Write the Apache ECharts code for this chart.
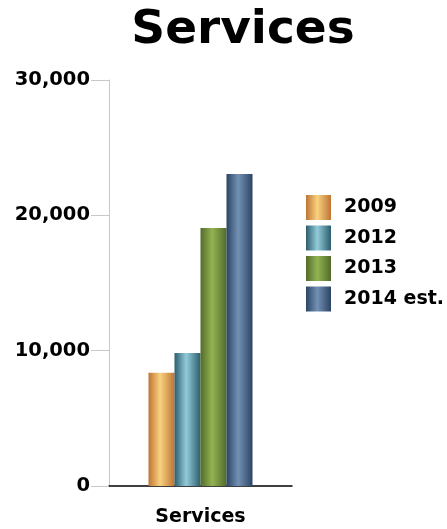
<!DOCTYPE html>
<html><head><meta charset="utf-8">
<script src="https://cdn.jsdelivr.net/npm/echarts@6/dist/echarts.min.js"></script>
<style>html,body{margin:0;padding:0;background:#fff}#c{width:447px;height:529px}</style>
</head><body><div id="c"></div>
<script>
const categories = ['Services'];
const seriesNames = ['2009', '2012', '2013', '2014 est.'];
const values2009 = [8370];
const values2012 = [9830];
const values2013 = [19070];
const values2014 = [23060];
const yTicks = [0, 10000, 20000, 30000];

const palettes = [
  ['#bf7434', '#f8d27f'],
  ['#2c5e6c', '#93cbdb'],
  ['#536b2a', '#93b352'],
  ['#2b4464', '#7391b4']
];
function grad(p) {
  return new echarts.graphic.LinearGradient(0, 0, 1, 0, [
    {offset: 0, color: p[0]}, {offset: 0.45, color: p[1]}, {offset: 1, color: p[0]}
  ]);
}
const allValues = [values2009, values2012, values2013, values2014];
const FONT = 'DejaVu Sans';
const chart = echarts.init(document.getElementById('c'));
chart.setOption({
  animation: false,
  title: {text: 'Services', left: 243, top: 7, textAlign: 'center', padding: 0,
    textStyle: {fontFamily: FONT, fontWeight: 'bold', fontSize: 47, color: '#000'}},
  grid: {left: 109, right: 155, top: 80, bottom: 43},
  legend: {orient: 'vertical', left: 306, top: 195, padding: 0, itemWidth: 25, itemHeight: 25, itemGap: 5.5,
    icon: 'rect', data: seriesNames,
    textStyle: {fontFamily: FONT, fontWeight: 'bold', fontSize: 19, color: '#000', padding: [0,0,0,8]}},
  xAxis: {type: 'category', data: categories,
    axisLine: {lineStyle: {color: '#000', width: 1.5}}, axisTick: {show: false},
    axisLabel: {fontFamily: FONT, fontWeight: 'bold', fontSize: 19, color: '#000', margin: 22}},
  yAxis: {type: 'value', min: yTicks[0], max: yTicks[yTicks.length-1], interval: 10000,
    splitLine: {show: false},
    axisLine: {show: true, lineStyle: {color: '#c8c8c8'}},
    axisTick: {show: true, length: 18, lineStyle: {color: '#c8c8c8'}},
    axisLabel: {fontFamily: FONT, fontWeight: 'bold', fontSize: 19.5, color: '#000', margin: 19,
      formatter: v => v.toLocaleString('en-US')}},
  series: allValues.map((vals, i) => ({
    name: seriesNames[i], type: 'bar', data: vals, barWidth: 26, barGap: '0%',
    itemStyle: {color: grad(palettes[i])}
  }))
});
</script></body></html>
